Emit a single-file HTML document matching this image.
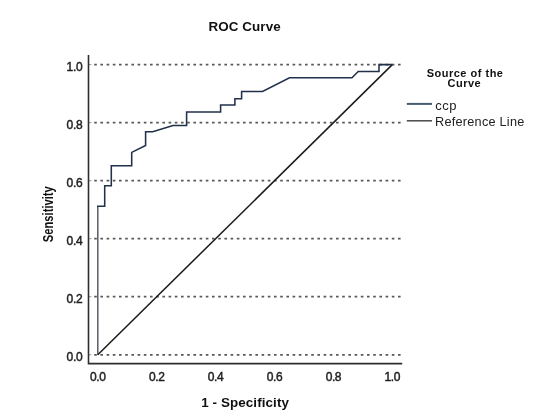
<!DOCTYPE html>
<html><head><meta charset="utf-8">
<style>
html,body{margin:0;padding:0;background:#fff;}
body{width:550px;height:413px;overflow:hidden;}
svg{display:block;filter:blur(0.35px);}
text{font-family:"Liberation Sans",sans-serif;}
</style></head>
<body>
<svg width="550" height="413" viewBox="0 0 550 413" xmlns="http://www.w3.org/2000/svg">
<rect width="550" height="413" fill="#fff"/>
<text x="244.6" y="30.8" font-size="13.4" letter-spacing="0.1" font-weight="bold" text-anchor="middle" fill="#111">ROC Curve</text>
<g stroke="#585858" stroke-width="1.8" stroke-dasharray="2.6 3.6">
<line x1="94.2" y1="64.6" x2="401.5" y2="64.6"/>
<line x1="94.2" y1="122.6" x2="401.5" y2="122.6"/>
<line x1="94.2" y1="180.7" x2="401.5" y2="180.7"/>
<line x1="94.2" y1="238.7" x2="401.5" y2="238.7"/>
<line x1="94.2" y1="296.7" x2="401.5" y2="296.7"/>
<line x1="94.2" y1="354.8" x2="401.5" y2="354.8"/>
</g>
<g stroke="#999" stroke-width="1">
<line x1="88.5" y1="64.6" x2="91.5" y2="64.6"/>
<line x1="88.5" y1="122.6" x2="91.5" y2="122.6"/>
<line x1="88.5" y1="180.7" x2="91.5" y2="180.7"/>
<line x1="88.5" y1="238.7" x2="91.5" y2="238.7"/>
<line x1="88.5" y1="296.7" x2="91.5" y2="296.7"/>
<line x1="88.5" y1="354.8" x2="91.5" y2="354.8"/>
</g>
<path d="M88.5 55 V363.6 H402.2" fill="none" stroke="#2e2e2e" stroke-width="1.6"/>
<g font-size="12" fill="#1e1e1e" stroke="#1e1e1e" stroke-width="0.45" letter-spacing="-0.2" text-anchor="end">
<text x="82.6" y="70.8">1.0</text>
<text x="82.6" y="128.8">0.8</text>
<text x="82.6" y="186.9">0.6</text>
<text x="82.6" y="244.9">0.4</text>
<text x="82.6" y="302.9">0.2</text>
<text x="82.6" y="361">0.0</text>
</g>
<g font-size="12" fill="#1e1e1e" stroke="#1e1e1e" stroke-width="0.45" letter-spacing="-0.4" text-anchor="middle">
<text x="97.8" y="380.8">0.0</text>
<text x="156.7" y="380.8">0.2</text>
<text x="215.6" y="380.8">0.4</text>
<text x="274.5" y="380.8">0.6</text>
<text x="333.4" y="380.8">0.8</text>
<text x="392.3" y="380.8">1.0</text>
</g>
<text x="245.1" y="407.4" font-size="13.4" letter-spacing="0.1" font-weight="bold" text-anchor="middle" fill="#111">1 - Specificity</text>
<text transform="translate(52.8 214.2) rotate(-90) scale(0.8 1)" x="0" y="0" font-size="14" font-weight="bold" text-anchor="middle" fill="#111">Sensitivity</text>
<line x1="97.8" y1="354.8" x2="97.8" y2="206.2" stroke="#5a5d63" stroke-width="1.5"/>
<line x1="97.8" y1="354.8" x2="392.3" y2="64.6" stroke="#1a1a1a" stroke-width="1.5"/>
<polyline fill="none" stroke="#22314a" stroke-width="1.55" stroke-linejoin="miter" points="97.8,207 97.8,206.2 104.7,206.2 104.7,185.8 111.3,185.8 111.3,165.7 131.7,165.7 131.7,152.4 145.6,145.5 145.6,131.8 152.7,131.8 173,125.4 186.6,125.4 186.6,111.9 220.6,111.9 220.6,104.9 234.9,104.9 234.9,98.7 241.6,98.7 241.6,91.5 262.6,91.5 289.5,77.7 352,77.7 358.2,71.4 379,71.4 379,64.6 392.3,64.6"/>
<g font-weight="bold" font-size="11" letter-spacing="0.5" text-anchor="middle" fill="#111">
<text x="465.1" y="76.8">Source of the</text>
<text x="464.4" y="87.2">Curve</text>
</g>
<line x1="406.8" y1="103.9" x2="432" y2="103.9" stroke="#485d70" stroke-width="2"/>
<line x1="406.8" y1="120.8" x2="432" y2="120.8" stroke="#4a4a4a" stroke-width="1.5"/>
<g font-size="13" fill="#222">
<text x="435.2" y="109.5" letter-spacing="0.5">ccp</text>
<text x="435" y="125.9" font-size="12.7" letter-spacing="0.25">Reference Line</text>
</g>
</svg>
</body></html>
